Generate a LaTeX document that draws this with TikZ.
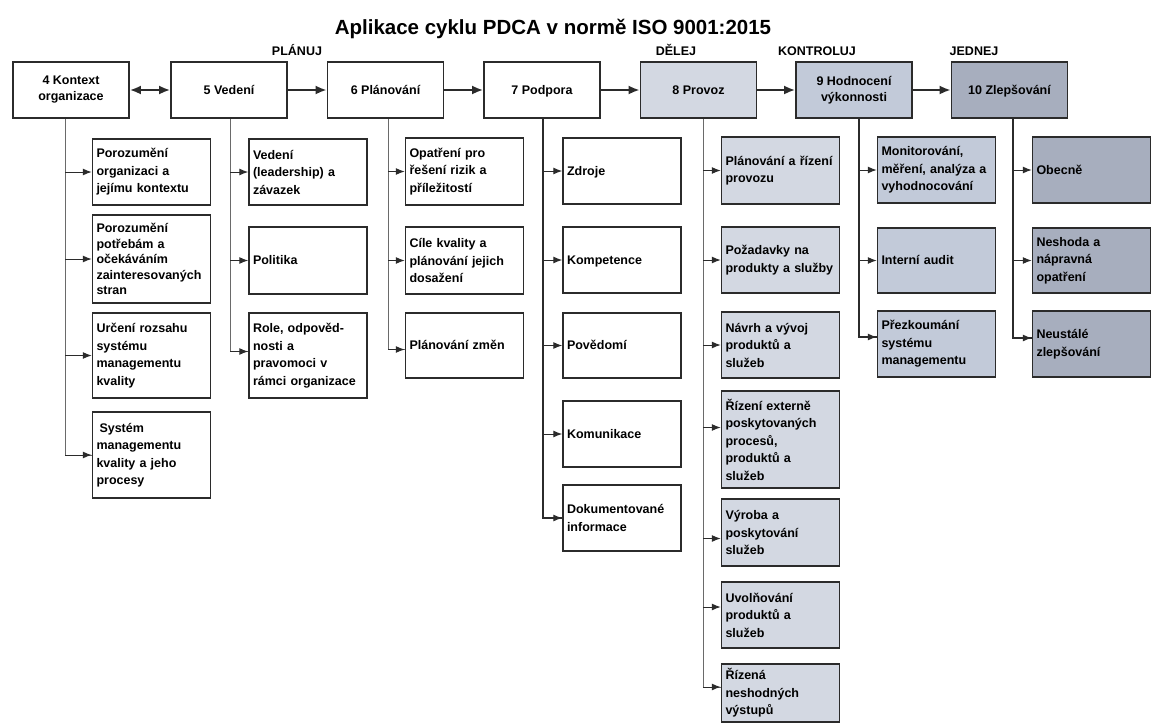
\documentclass[tikz,border=0pt]{standalone}
\usepackage{fontspec}
\setmainfont{Liberation Sans}
\usetikzlibrary{arrows.meta}
\definecolor{boxline}{HTML}{2B2B2B}
\definecolor{spinecol}{HTML}{6A6A6A}
\definecolor{fillDo}{HTML}{D3D8E2}
\definecolor{fillCheck}{HTML}{C2CAD9}
\definecolor{fillAct}{HTML}{A7AEBE}
\newcommand{\evenline}{\vphantom{Ápy}}
\begin{document}
\begin{tikzpicture}[x=1pt,y=-1pt,
  topbox/.style={draw=boxline, line width=1.8pt, minimum width=116pt, minimum height=56pt,
    align=center, inner sep=2pt, font=\bfseries\fontsize{12.5}{16}\selectfont},
  subbox/.style={draw=boxline, line width=1.5pt, text width=110pt, inner xsep=4pt, inner ysep=2pt,
    align=left, font=\bfseries\fontsize{12.5}{17.5}\selectfont},
  phase/.style={anchor=base, font=\bfseries\fontsize{12.5}{15}\selectfont},
  flow/.style={draw=boxline, line width=2pt, -{Latex[length=11pt,width=9pt]}},
  spine/.style={draw=spinecol, line width=0.9pt},
  spinedark/.style={draw=boxline, line width=1.2pt},
  branch/.style={draw=boxline, line width=1pt, -{Latex[length=9pt,width=7pt]}}
]
\useasboundingbox (0,0) rectangle (1154,724);
\fill[white] (0,0) rectangle (1154,724);

% title and PDCA phase labels
\node[anchor=base, font=\bfseries\fontsize{20.5}{24}\selectfont] (title) at (553,34) {Aplikace cyklu PDCA v normě ISO 9001:2015};
\node[phase] (plan) at (297,55) {PLÁNUJ};
\node[phase] (do) at (676,55) {DĚLEJ};
\node[phase] (check) at (817,55) {KONTROLUJ};
\node[phase] (act) at (974,55) {JEDNEJ};

% main clauses 4-10
\node[topbox] (t4) at (71,90) {4 Kontext\\organizace};
\node[topbox] (t5) at (229,90) {\evenline5 Vedení};
\node[topbox] (t6) at (385.5,90) {\evenline6 Plánování};
\node[topbox] (t7) at (542,90) {\evenline7 Podpora};
\node[topbox, fill=fillDo] (t8) at (698.5,90) {\evenline8 Provoz};
\node[topbox, fill=fillCheck] (t9) at (854,90) {9 Hodnocení\\výkonnosti};
\node[topbox, fill=fillAct] (t10) at (1009.5,90) {\evenline10 Zlepšování};

\draw[flow, {Latex[length=11pt,width=9pt]}-{Latex[length=11pt,width=9pt]}] (t4) -- (t5);
\draw[flow] (t5) -- (t6);
\draw[flow] (t6) -- (t7);
\draw[flow] (t7) -- (t8);
\draw[flow] (t8) -- (t9);
\draw[flow] (t9) -- (t10);

% x positions of the vertical feeders
\coordinate (k1) at (65,0);
\coordinate (k2) at (230,0);
\coordinate (k3) at (388,0);
\coordinate (k4) at (543,0);
\coordinate (k5) at (703,0);
\coordinate (k6) at (859,0);
\coordinate (k7) at (1013,0);

% clause 4
\node[subbox, minimum height=66pt] (b1) at (151.5,172) {Porozumění\\organizaci a\\jejímu kontextu};
\node[subbox, minimum height=88pt, font=\bfseries\fontsize{12.5}{15.5}\selectfont] (b2) at (151.5,259) {Porozumění\\potřebám a\\očekáváním\\zainteresovaných\\stran};
\node[subbox, minimum height=85pt] (b3) at (151.5,355.5) {Určení rozsahu\\systému\\managementu\\kvality};
\node[subbox, minimum height=86pt] (b4) at (151.5,455) {\hspace{3pt}Systém\\managementu\\kvality a jeho\\procesy};

% clause 5
\node[subbox, minimum height=66pt] (c1) at (308,172) {Vedení\\(leadership) a\\závazek};
\node[subbox, minimum height=67pt] (c2) at (308,260.5) {\evenline Politika};
\node[subbox, minimum height=85pt] (c3) at (308,355.5) {Role, odpověd-\\nosti a\\pravomoci v\\rámci organizace};

% clause 6
\node[subbox, minimum height=67pt] (d1) at (464.5,171.5) {Opatření pro\\řešení rizik a\\příležitostí};
\node[subbox, minimum height=67pt] (d2) at (464.5,260.5) {Cíle kvality a\\plánování jejich\\dosažení};
\node[subbox, minimum height=65pt] (d3) at (464.5,345.5) {\evenline Plánování změn};

% clause 7
\node[subbox, minimum height=66pt] (e1) at (622,171) {\evenline Zdroje};
\node[subbox, minimum height=66pt] (e2) at (622,260) {\evenline Kompetence};
\node[subbox, minimum height=65pt] (e3) at (622,345.5) {\evenline Povědomí};
\node[subbox, minimum height=66pt] (e4) at (622,434) {\evenline Komunikace};
\node[subbox, minimum height=66pt] (e5) at (622,518) {Dokumentované\\informace};

% clause 8
\node[subbox, fill=fillDo, minimum height=67pt] (f1) at (780.5,170.5) {Plánování a řízení\\provozu};
\node[subbox, fill=fillDo, minimum height=66pt] (f2) at (780.5,260) {Požadavky na\\produkty a služby};
\node[subbox, fill=fillDo, minimum height=66pt] (f3) at (780.5,345) {Návrh a vývoj\\produktů a\\služeb};
\node[subbox, fill=fillDo, minimum height=97pt] (f4) at (780.5,439.5) {Řízení externě\\poskytovaných\\procesů,\\produktů a\\služeb};
\node[subbox, fill=fillDo, minimum height=67pt] (f5) at (780.5,532.5) {Výroba a\\poskytování\\služeb};
\node[subbox, fill=fillDo, minimum height=66pt] (f6) at (780.5,615) {Uvolňování\\produktů a\\služeb};
\node[subbox, fill=fillDo, minimum height=58pt] (f7) at (780.5,693) {Řízená\\neshodných\\výstupů};

% clause 9
\node[subbox, fill=fillCheck, minimum height=66pt] (g1) at (936.5,170) {Monitorování,\\měření, analýza a\\vyhodnocování};
\node[subbox, fill=fillCheck, minimum height=65pt] (g2) at (936.5,260.5) {\evenline Interní audit};
\node[subbox, fill=fillCheck, minimum height=66pt] (g3) at (936.5,344) {Přezkoumání\\systému\\managementu};

% clause 10
\node[subbox, fill=fillAct, minimum height=66pt] (h1) at (1091.5,170) {\evenline Obecně};
\node[subbox, fill=fillAct, minimum height=65pt] (h2) at (1091.5,260.5) {Neshoda a\\nápravná\\opatření};
\node[subbox, fill=fillAct, minimum height=66pt] (h3) at (1091.5,344) {Neustálé\\zlepšování};

% feeders: clause 4
\draw[spine] (t4.south -| k1) |- (b4.west);
\draw[branch] (b4.west -| k1) -- (b4.west);
\draw[branch] (b1.west -| k1) -- (b1.west);
\draw[branch] (b2.west -| k1) -- (b2.west);
\draw[branch] (b3.west -| k1) -- (b3.west);

% feeders: clause 5
\draw[spine] (t5.south -| k2) |- ([yshift=4pt]c3.west);
\draw[branch] ([yshift=4pt]c3.west -| k2) -- ([yshift=4pt]c3.west);
\draw[branch] (c1.west -| k2) -- (c1.west);
\draw[branch] (c2.west -| k2) -- (c2.west);

% feeders: clause 6
\draw[spine] (t6.south -| k3) |- ([yshift=-4pt]d3.west);
\draw[branch] ([yshift=-4pt]d3.west -| k3) -- ([yshift=-4pt]d3.west);
\draw[branch] (d1.west -| k3) -- (d1.west);
\draw[branch] (d2.west -| k3) -- (d2.west);

% feeders: clause 7
\draw[spinedark] (t7.south -| k4) |- (e5.west);
\draw[branch] (e5.west -| k4) -- (e5.west);
\draw[branch] (e1.west -| k4) -- (e1.west);
\draw[branch] (e2.west -| k4) -- (e2.west);
\draw[branch] (e3.west -| k4) -- (e3.west);
\draw[branch] (e4.west -| k4) -- (e4.west);

% feeders: clause 8
\draw[spine] (t8.south -| k5) |- ([yshift=6pt]f7.west);
\draw[branch] ([yshift=6pt]f7.west -| k5) -- ([yshift=6pt]f7.west);
\draw[branch] (f1.west -| k5) -- (f1.west);
\draw[branch] (f2.west -| k5) -- (f2.west);
\draw[branch] (f3.west -| k5) -- (f3.west);
\draw[branch] ([yshift=12pt]f4.west -| k5) -- ([yshift=12pt]f4.west);
\draw[branch] ([yshift=-6pt]f5.west -| k5) -- ([yshift=-6pt]f5.west);
\draw[branch] ([yshift=8pt]f6.west -| k5) -- ([yshift=8pt]f6.west);

% feeders: clause 9
\draw[spinedark] (t9.south -| k6) |- ([yshift=7pt]g3.west);
\draw[branch] ([yshift=7pt]g3.west -| k6) -- ([yshift=7pt]g3.west);
\draw[branch] (g1.west -| k6) -- (g1.west);
\draw[branch] (g2.west -| k6) -- (g2.west);

% feeders: clause 10
\draw[spinedark] (t10.south -| k7) |- ([yshift=6pt]h3.west);
\draw[branch] ([yshift=6pt]h3.west -| k7) -- ([yshift=6pt]h3.west);
\draw[branch] (h1.west -| k7) -- (h1.west);
\draw[branch] (h2.west -| k7) -- (h2.west);
\end{tikzpicture}
\end{document}
